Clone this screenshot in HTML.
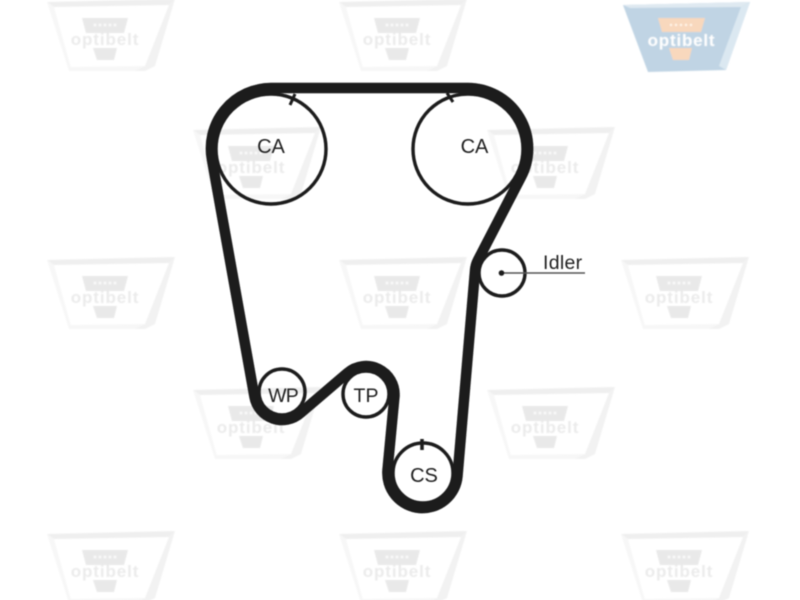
<!DOCTYPE html>
<html><head><meta charset="utf-8">
<style>html,body{margin:0;padding:0;background:#fff}svg{display:block}text{font-family:"Liberation Sans",sans-serif}</style>
</head><body>
<svg width="800" height="600" viewBox="0 0 800 600" xmlns="http://www.w3.org/2000/svg">
<defs>
<filter id="b" x="-5%" y="-5%" width="110%" height="110%"><feGaussianBlur stdDeviation="0.6"/></filter>
<filter id="w" x="-5%" y="-5%" width="110%" height="110%"><feGaussianBlur stdDeviation="0.8"/></filter>
<g id="m">
<polygon points="-1,2 127,-1 121,5 6,7" fill="#efefef"/>
<polygon points="127,-1 121,5 97,66 86,71 97,71 107,66" fill="#f2f2f2"/>
<polygon points="-1,2 6,7 23,68 21,71" fill="#f7f7f7"/>
<polygon points="21,71 86,71 97,66 23,67" fill="#f7f7f7"/>
<polygon points="34,18 80,18 76,33 38,33" fill="#e9e9e9"/>
<g fill="#fbfbfb"><circle cx="47" cy="25" r="1.4"/><circle cx="52" cy="25" r="1.4"/><circle cx="57" cy="25" r="1.4"/><circle cx="62" cy="25" r="1.4"/><circle cx="67" cy="25" r="1.4"/></g>
<polygon points="45,48 69,48 66,60 49,60" fill="#e9e9e9"/>
<text x="57" y="45" text-anchor="middle" font-size="17" font-weight="700" letter-spacing="0.9" fill="#ebebeb">optibelt</text>
</g>
</defs>
<rect width="800" height="600" fill="#fff"/>
<g filter="url(#w)">
<use href="#m" x="48" y="0"/><use href="#m" x="340" y="0"/>
<use href="#m" x="194" y="128"/><use href="#m" x="488" y="128"/>
<use href="#m" x="48" y="258"/><use href="#m" x="340" y="258"/><use href="#m" x="622" y="258"/>
<use href="#m" x="194" y="388"/><use href="#m" x="488" y="388"/>
<use href="#m" x="48" y="532"/><use href="#m" x="340" y="532"/><use href="#m" x="622" y="532"/>
<g transform="translate(622,0)">
<polygon points="1,5 128,2 104,70 26,72" fill="#c0d4e4"/>
<polygon points="1,5 128,2 119,7 8,8" fill="#dfe9f1"/>
<polygon points="128,2 119,7 97,66 104,70" fill="#dbe8f1"/>
<polygon points="36,18 83,18 79,32 40,32" fill="#f8d8bd"/>
<g fill="#fff6ec"><circle cx="49" cy="25" r="1.2"/><circle cx="54" cy="25" r="1.2"/><circle cx="59" cy="25" r="1.2"/><circle cx="64" cy="25" r="1.2"/><circle cx="69" cy="25" r="1.2"/></g>
<polygon points="47,48 70,48 67,60 51,60" fill="#f8d8bd"/>
<text x="59.5" y="46" text-anchor="middle" font-size="17" font-weight="700" letter-spacing="0.8" fill="#ffffff">optibelt</text>
</g>
</g>
<g filter="url(#b)">
<g fill="none" stroke="#1c1c1c" stroke-width="3.4">
<circle cx="271" cy="149" r="55"/>
<circle cx="468" cy="149" r="55"/>
<circle cx="502" cy="273" r="23"/>
<circle cx="282" cy="392" r="23"/>
<circle cx="366" cy="394" r="23"/>
<circle cx="423" cy="473" r="30"/>
</g>
<path d="M271 88 L468 88 A60.5 60.5 0 0 1 521 177 L478 260 A27 27 0 0 0 475 271 L457.5 476 A35 35 0 0 1 387.5 470 L394.5 396 A28.5 28.5 0 0 0 347.3 373.1 L300.7 412.9 A28 28 0 0 1 254.5 397 L212 160 A60.5 60.5 0 0 1 271 88 Z" fill="none" stroke="#1c1c1c" stroke-width="10.5" stroke-linejoin="round"/>
<g stroke="#1c1c1c" stroke-width="3" fill="none">
<line x1="290" y1="105" x2="295" y2="94"/>
<line x1="453" y1="102" x2="447" y2="93"/>
<line x1="422" y1="439" x2="422" y2="450" stroke-width="3.5"/>
<line x1="502" y1="273" x2="585" y2="273" stroke="#555" stroke-width="1.6"/>
</g>
<circle cx="501.5" cy="273" r="2.8" fill="#1c1c1c"/>
<g fill="#222">
<text x="271" y="153" text-anchor="middle" font-size="20">CA</text>
<text x="474.5" y="153" text-anchor="middle" font-size="20">CA</text>
<text x="283" y="402" text-anchor="middle" font-size="19.5" letter-spacing="-0.8">WP</text>
<text x="366" y="402" text-anchor="middle" font-size="19.5">TP</text>
<text x="424" y="482" text-anchor="middle" font-size="20">CS</text>
<text x="543" y="269" font-size="19.5" letter-spacing="0.3">Idler</text>
</g>
</g>
</svg>
</body></html>
